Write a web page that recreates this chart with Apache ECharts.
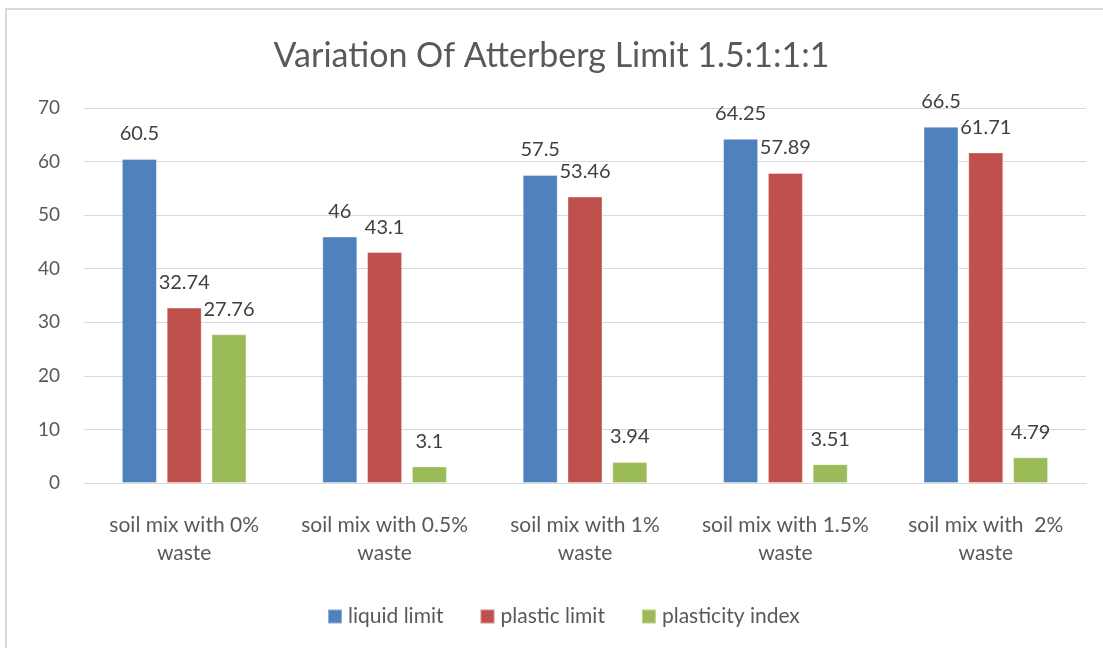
<!DOCTYPE html>
<html>
<head>
<meta charset="utf-8">
<script src="https://cdn.jsdelivr.net/npm/echarts@6/dist/echarts.min.js"></script>
<style>
  html, body { margin: 0; padding: 0; background: #ffffff; }
  #chart { width: 1103px; height: 648px; }
</style>
</head>
<body>
<div id="chart"></div>
<script>
// Atterberg limits of the soil mixes
const categories = [
  'soil mix with 0% waste',
  'soil mix with 0.5% waste',
  'soil mix with 1% waste',
  'soil mix with 1.5% waste',
  'soil mix with  2% waste'
];
const liquidLimit = [60.5, 46, 57.5, 64.25, 66.5];
const plasticLimit = [32.74, 43.1, 53.46, 57.89, 61.71];
const plasticityIndex = [27.76, 3.1, 3.94, 3.51, 4.79];
const seriesNames = ['liquid limit', 'plastic limit', 'plasticity index'];
const yTicks = { min: 0, max: 70, interval: 10 };

const FONT = 'Lato, "Open Sans", sans-serif';
const colors = ['#4f81bd', '#c0504d', '#9bbb59'];

const chart = echarts.init(document.getElementById('chart'), null, { renderer: 'canvas' });

function barSeries(name, data, color) {
  return {
    name: name,
    type: 'bar',
    data: data,
    barWidth: 35,
    barGap: '28%',
    itemStyle: { color: color, borderColor: 'rgba(255,255,255,0.35)', borderWidth: 1 },
    label: {
      show: true,
      position: 'top',
      distance: 15,
      color: '#404040',
      fontFamily: FONT,
      fontSize: 20
    }
  };
}

chart.setOption({
  animation: false,
  backgroundColor: '#ffffff',
  graphic: [{
    type: 'rect',
    silent: true,
    shape: { x: 6, y: 9, width: 1200, height: 800 },
    style: { fill: 'none', stroke: '#d9d9d9', lineWidth: 2 }
  }],
  title: {
    text: 'Variation Of Atterberg Limit 1.5:1:1:1',
    left: 'center',
    top: 34,
    textStyle: { fontFamily: FONT, fontSize: 34, fontWeight: 'normal', color: '#595959' }
  },
  legend: {
    bottom: 16,
    left: 322,
    data: seriesNames,
    icon: 'rect',
    itemWidth: 14,
    itemHeight: 14,
    itemGap: 36,
    textStyle: { fontFamily: FONT, fontSize: 21, color: '#595959', padding: [0, 0, 0, 1] }
  },
  grid: { left: 84, right: 17, top: 108, bottom: 165, containLabel: false },
  xAxis: {
    type: 'category',
    data: categories,
    axisLine: { lineStyle: { color: '#d9d9d9', width: 1 } },
    axisTick: { show: false },
    axisLabel: {
      interval: 0,
      margin: 28,
      lineHeight: 28,
      fontFamily: FONT,
      fontSize: 21,
      color: '#595959',
      formatter: function (v) { return v.replace(' waste', '\nwaste'); }
    }
  },
  yAxis: {
    type: 'value',
    min: yTicks.min,
    max: yTicks.max,
    interval: yTicks.interval,
    axisLine: { show: false },
    axisTick: { show: false },
    splitLine: { lineStyle: { color: '#d9d9d9', width: 1 } },
    axisLabel: { margin: 24, fontFamily: FONT, fontSize: 19, color: '#595959' }
  },
  series: [
    barSeries(seriesNames[0], liquidLimit, colors[0]),
    barSeries(seriesNames[1], plasticLimit, colors[1]),
    barSeries(seriesNames[2], plasticityIndex, colors[2])
  ]
});
</script>
</body>
</html>
